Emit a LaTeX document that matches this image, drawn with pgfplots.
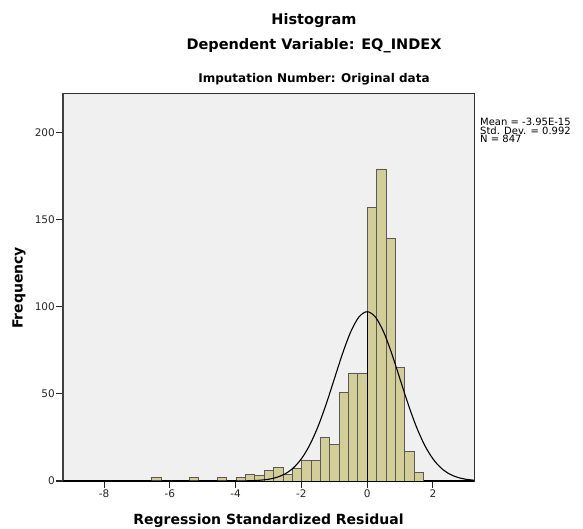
\documentclass[border=0pt]{standalone}
\usepackage{fontspec}
\setmainfont{DejaVu Sans}
\usepackage{pgfplots}
\pgfplotsset{compat=1.18}
\definecolor{barfill}{RGB}{211,206,151}
\definecolor{plotbg}{RGB}{240,240,240}
\begin{document}
\begin{tikzpicture}[x=1bp,y=1bp]
\path[use as bounding box] (0,0) rectangle (583,529);
\begin{axis}[
  at={(63bp,48bp)}, anchor=south west,
  width=411bp, height=388bp, scale only axis,
  xmin=-9.25, xmax=3.25, ymin=0, ymax=222.5,
  axis background/.style={fill=plotbg, draw=black!80, line width=0.7bp},
  axis x line*=bottom, axis y line*=left,
  x axis line style={-, black, line width=1.4bp},
  y axis line style={-, black!75, line width=1.2bp},
  xtick={-8,-6,-4,-2,0,2}, xticklabels={-8,-6,-4,-2,0,2},
  ytick={0,50,100,150,200}, yticklabels={0,50,100,150,200},
  tick align=outside, major tick length=7bp,
  tick style={black!85, line width=1.1bp},
  ticklabel style={font=\fontsize{10.5bp}{12bp}\selectfont, text=black!85},
  yticklabel style={inner sep=1bp},
  xticklabel style={inner sep=2bp},
]
\addplot[ybar, bar width=0.285, bar shift=0, fill=barfill, draw=black!65, line width=0.6bp] coordinates {
(-6.4125,2) (-5.2725,2) (-4.4175,2) (-3.8475,2) (-3.5625,4) (-3.2775,3)
(-2.9925,6) (-2.7075,8) (-2.4225,4) (-2.1375,7) (-1.8525,12) (-1.5675,12)
(-1.2825,25) (-0.9975,21) (-0.7125,51) (-0.4275,62) (-0.1425,62)
(0.1425,157) (0.4275,179) (0.7125,139) (0.9975,65) (1.2825,17) (1.5675,5)
};
\addplot[black, line width=1.1bp, smooth] coordinates {
(-9.25,0) (-5,0) (-4.5,0.003) (-4,0.03) (-3.75,0.08) (-3.5,0.19) (-3.25,0.45)
(-3,1.00) (-2.75,2.08) (-2.5,4.05) (-2.25,7.41) (-2,12.72) (-1.75,20.49)
(-1.5,30.96) (-1.25,43.89) (-1,58.43) (-0.75,72.96) (-0.5,85.52) (-0.25,94.06)
(0,97.1) (0.25,94.06) (0.5,85.52) (0.75,72.96) (1,58.43) (1.25,43.89)
(1.5,30.96) (1.75,20.49) (2,12.72) (2.25,7.41) (2.5,4.05) (2.75,2.08)
(3,1.00) (3.25,0.45)
};
\addplot[black, line width=1.1bp] coordinates {(0,0) (0,97.1)};
\end{axis}
\node[anchor=base, font=\fontsize{14.5bp}{17bp}\selectfont\bfseries] at (314,504) {Histogram};
\node[anchor=base, font=\fontsize{14.5bp}{17bp}\selectfont\bfseries] at (314,479) {Dependent Variable: EQ\_INDEX};
\node[anchor=base, font=\fontsize{12bp}{14bp}\selectfont\bfseries] at (314,446.5) {Imputation Number: Original data};
\node[anchor=base, font=\fontsize{14bp}{17bp}\selectfont\bfseries] at (268.5,4.5) {Regression Standardized Residual};
\node[anchor=base, rotate=90, font=\fontsize{14bp}{17bp}\selectfont\bfseries] at (22.5,241) {Frequency};
\node[anchor=base west, inner sep=0pt, font=\fontsize{10bp}{12bp}\selectfont] at (480,403) {Mean = -3.95E-15};
\node[anchor=base west, inner sep=0pt, font=\fontsize{10bp}{12bp}\selectfont] at (480,394.5) {Std. Dev. = 0.992};
\node[anchor=base west, inner sep=0pt, font=\fontsize{10bp}{12bp}\selectfont] at (480,386) {N = 847};
\end{tikzpicture}
\end{document}
